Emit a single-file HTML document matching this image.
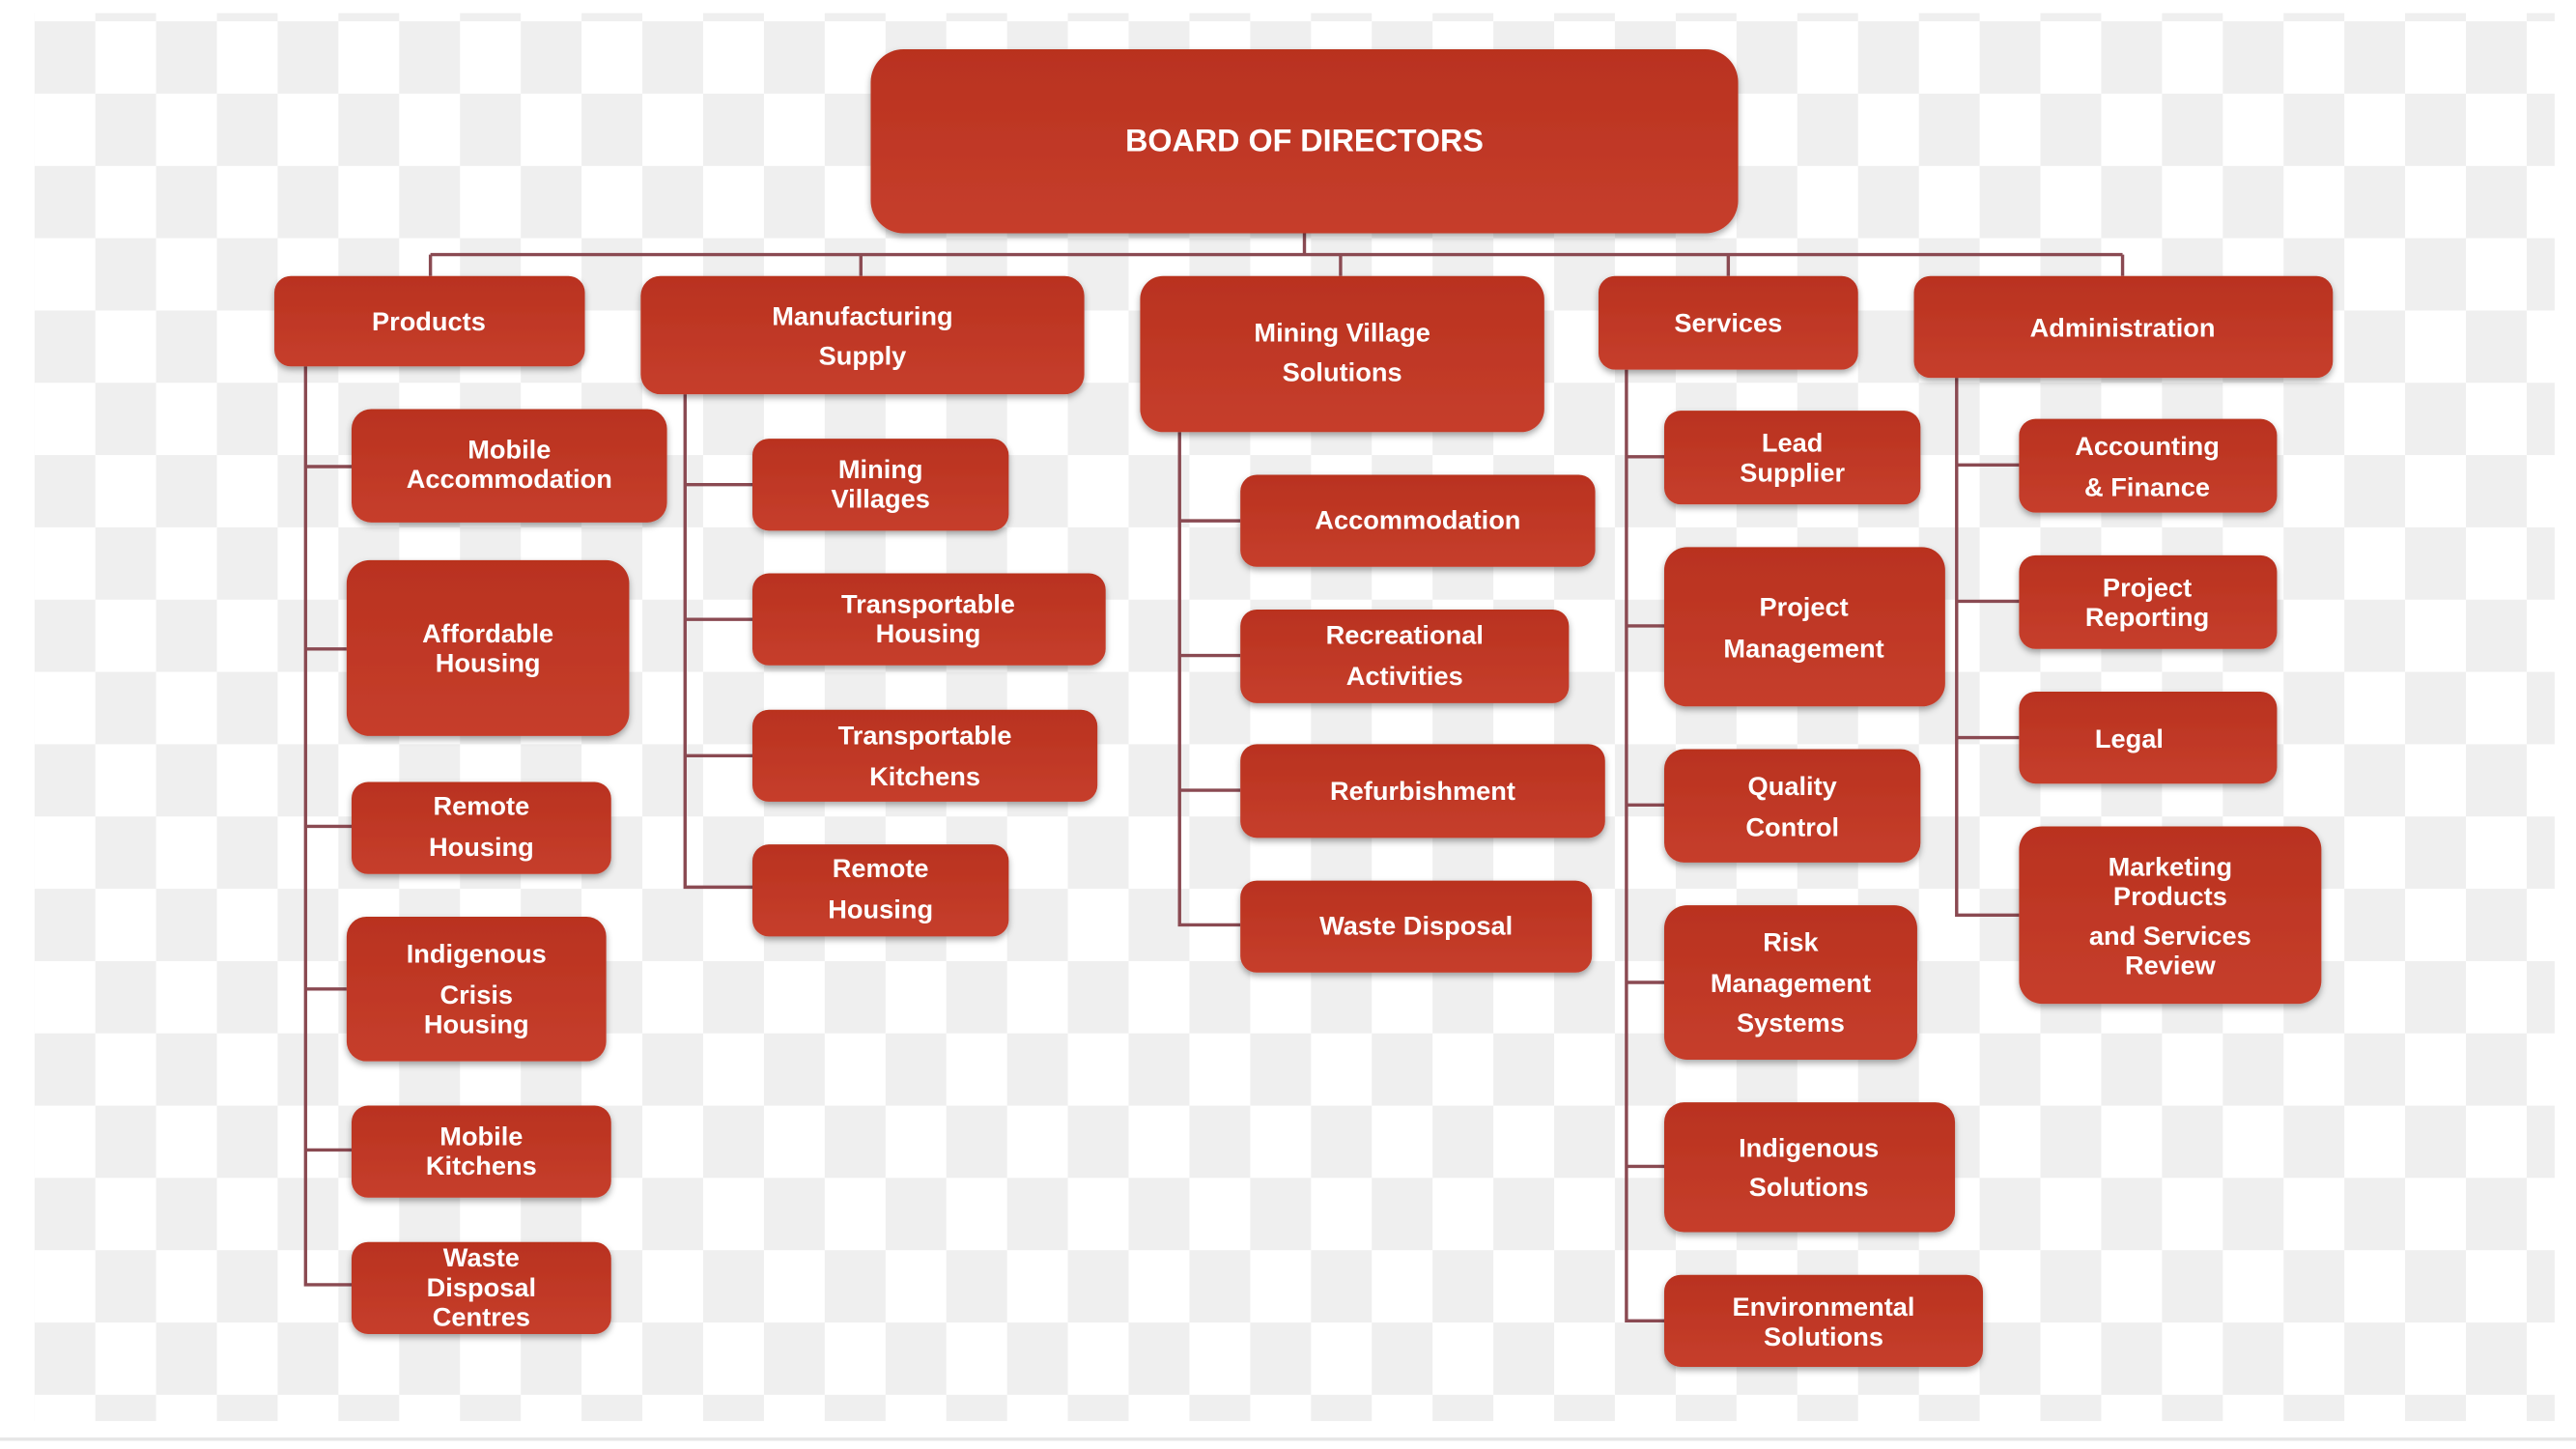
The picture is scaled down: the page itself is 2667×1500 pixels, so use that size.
<!DOCTYPE html>
<html><head><meta charset="utf-8"><style>
html,body{margin:0;padding:0;background:#fff;}
svg{display:block;}
text{font-family:"Liberation Sans",sans-serif;font-weight:bold;fill:#fff;text-anchor:middle;}
</style></head><body>
<svg width="2667" height="1500" viewBox="0 0 1568 882" preserveAspectRatio="none" xmlns="http://www.w3.org/2000/svg">
<defs>
<pattern id="chk" x="21" y="13" width="74" height="88" patternUnits="userSpaceOnUse">
<rect width="74" height="88" fill="#ffffff"/>
<rect x="0" y="0" width="37" height="44" fill="#efefef"/>
<rect x="37" y="44" width="37" height="44" fill="#efefef"/>
</pattern>
<linearGradient id="g" x1="0" y1="0" x2="0" y2="1">
<stop offset="0" stop-color="#b9321f"/><stop offset="1" stop-color="#c63e2c"/>
</linearGradient>
<filter id="sh" x="-10%" y="-10%" width="120%" height="130%">
<feDropShadow dx="0" dy="2" stdDeviation="2" flood-color="#000" flood-opacity="0.35"/>
</filter>
</defs>
<rect x="21" y="8" width="1534" height="857" fill="url(#chk)"/>
<line x1="0" y1="876" x2="1568" y2="876" stroke="#e6e6e6" stroke-width="2"/>

<g stroke="#8a4a52" stroke-width="2" fill="none">
<line x1="794" y1="142" x2="794" y2="155"/>
<line x1="262" y1="155" x2="1292" y2="155"/>
<line x1="262" y1="155" x2="262" y2="168"/>
<line x1="524" y1="155" x2="524" y2="168"/>
<line x1="816" y1="155" x2="816" y2="168"/>
<line x1="1052" y1="155" x2="1052" y2="168"/>
<line x1="1292" y1="155" x2="1292" y2="168"/>
<polyline points="186,223 186,782 214,782"/>
<line x1="186" y1="284" x2="214" y2="284"/><line x1="186" y1="395" x2="211" y2="395"/>
<line x1="186" y1="503" x2="214" y2="503"/><line x1="186" y1="602" x2="211" y2="602"/>
<line x1="186" y1="700" x2="214" y2="700"/>
<polyline points="417,240 417,540 458,540"/>
<line x1="417" y1="295" x2="458" y2="295"/><line x1="417" y1="377" x2="458" y2="377"/>
<line x1="417" y1="460" x2="458" y2="460"/>
<polyline points="718,263 718,563 755,563"/>
<line x1="718" y1="317" x2="755" y2="317"/><line x1="718" y1="399" x2="755" y2="399"/>
<line x1="718" y1="481" x2="755" y2="481"/>
<polyline points="990,225 990,804 1013,804"/>
<line x1="990" y1="278" x2="1013" y2="278"/><line x1="990" y1="381" x2="1013" y2="381"/>
<line x1="990" y1="490" x2="1013" y2="490"/><line x1="990" y1="598" x2="1013" y2="598"/>
<line x1="990" y1="710" x2="1013" y2="710"/>
<polyline points="1191,230 1191,557 1229,557"/>
<line x1="1191" y1="283" x2="1229" y2="283"/><line x1="1191" y1="366" x2="1229" y2="366"/>
<line x1="1191" y1="449" x2="1229" y2="449"/>
</g>

<g fill="url(#g)" filter="url(#sh)">
<rect x="530" y="30" width="528" height="112" rx="20"/>
<rect x="167" y="168" width="189" height="55" rx="10"/>
<rect x="390" y="168" width="270" height="72" rx="12"/>
<rect x="694" y="168" width="246" height="95" rx="14"/>
<rect x="973" y="168" width="158" height="57" rx="10"/>
<rect x="1165" y="168" width="255" height="62" rx="10"/>
<rect x="214" y="249" width="192" height="69" rx="12"/>
<rect x="211" y="341" width="172" height="107" rx="14"/>
<rect x="214" y="476" width="158" height="56" rx="10"/>
<rect x="211" y="558" width="158" height="88" rx="12"/>
<rect x="214" y="673" width="158" height="56" rx="10"/>
<rect x="214" y="756" width="158" height="56" rx="10"/>
<rect x="458" y="267" width="156" height="56" rx="10"/>
<rect x="458" y="349" width="215" height="56" rx="10"/>
<rect x="458" y="432" width="210" height="56" rx="10"/>
<rect x="458" y="514" width="156" height="56" rx="10"/>
<rect x="755" y="289" width="216" height="56" rx="10"/>
<rect x="755" y="371" width="200" height="57" rx="10"/>
<rect x="755" y="453" width="222" height="57" rx="10"/>
<rect x="755" y="536" width="214" height="56" rx="10"/>
<rect x="1013" y="250" width="156" height="57" rx="10"/>
<rect x="1013" y="333" width="171" height="97" rx="14"/>
<rect x="1013" y="456" width="156" height="69" rx="12"/>
<rect x="1013" y="551" width="154" height="94" rx="14"/>
<rect x="1013" y="671" width="177" height="79" rx="12"/>
<rect x="1013" y="776" width="194" height="56" rx="10"/>
<rect x="1229" y="255" width="157" height="57" rx="10"/>
<rect x="1229" y="338" width="157" height="57" rx="10"/>
<rect x="1229" y="421" width="157" height="56" rx="10"/>
<rect x="1229" y="503" width="184" height="108" rx="14"/>
</g>

<g font-size="16">
<text x="794" y="92" font-size="19">BOARD OF DIRECTORS</text>
<text x="261" y="201">Products</text>
<text x="525" y="198">Manufacturing</text><text x="525" y="222">Supply</text>
<text x="817" y="208">Mining Village</text><text x="817" y="232">Solutions</text>
<text x="1052" y="202">Services</text>
<text x="1292" y="205">Administration</text>

<text x="310" y="279">Mobile</text><text x="310" y="297">Accommodation</text>
<text x="297" y="391">Affordable</text><text x="297" y="409">Housing</text>
<text x="293" y="496">Remote</text><text x="293" y="521">Housing</text>
<text x="290" y="586">Indigenous</text><text x="290" y="611">Crisis</text><text x="290" y="629">Housing</text>
<text x="293" y="697">Mobile</text><text x="293" y="715">Kitchens</text>
<text x="293" y="771">Waste</text><text x="293" y="789">Disposal</text><text x="293" y="807">Centres</text>

<text x="536" y="291">Mining</text><text x="536" y="309">Villages</text>
<text x="565" y="373">Transportable</text><text x="565" y="391">Housing</text>
<text x="563" y="453">Transportable</text><text x="563" y="478">Kitchens</text>
<text x="536" y="534">Remote</text><text x="536" y="559">Housing</text>

<text x="863" y="322">Accommodation</text>
<text x="855" y="392">Recreational</text><text x="855" y="417">Activities</text>
<text x="866" y="487">Refurbishment</text>
<text x="862" y="569">Waste Disposal</text>

<text x="1091" y="275">Lead</text><text x="1091" y="293">Supplier</text>
<text x="1098" y="375">Project</text><text x="1098" y="400">Management</text>
<text x="1091" y="484">Quality</text><text x="1091" y="509">Control</text>
<text x="1090" y="579">Risk</text><text x="1090" y="604">Management</text><text x="1090" y="628">Systems</text>
<text x="1101" y="704">Indigenous</text><text x="1101" y="728">Solutions</text>
<text x="1110" y="801">Environmental</text><text x="1110" y="819">Solutions</text>

<text x="1307" y="277">Accounting</text><text x="1307" y="302">&amp; Finance</text>
<text x="1307" y="363">Project</text><text x="1307" y="381">Reporting</text>
<text x="1296" y="455">Legal</text>
<text x="1321" y="533">Marketing</text><text x="1321" y="551">Products</text><text x="1321" y="575">and Services</text><text x="1321" y="593">Review</text>
</g>
</svg>
</body></html>
